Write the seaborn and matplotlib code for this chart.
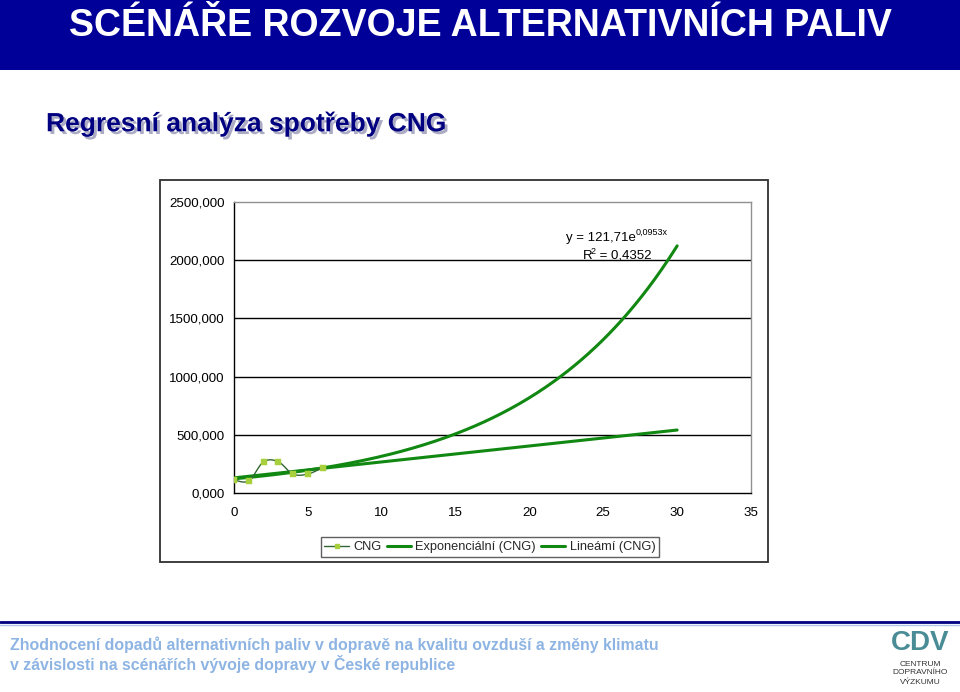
import numpy as np
import pandas as pd
import matplotlib
matplotlib.use("Agg")
import matplotlib.pyplot as plt
import matplotlib.patheffects as pe
from matplotlib.patches import Rectangle
from matplotlib.lines import Line2D
import seaborn as sns

# ---- data ----
cng_x = [0, 1, 2, 3, 4, 5, 6]
cng_y = [112, 104, 268, 268, 162, 163, 218]
exp_a, exp_b = 121.71, 0.0953          # y = a*e^(b x)
lin_intercept, lin_slope = 130.0, 13.7  # linear trend
trend_x_max = 30
y_ticks = [0, 500, 1000, 1500, 2000, 2500]
y_tick_labels = ["0,000", "500,000", "1000,000", "1500,000", "2000,000", "2500,000"]
x_ticks = [0, 5, 10, 15, 20, 25, 30, 35]
title = "SCÉNÁŘE ROZVOJE ALTERNATIVNÍCH PALIV"
subtitle = "Regresní analýza spotřeby CNG"
eq_main, eq_sup = "y = 121,71e", "0,0953x"
r2_text = "R", "2", " = 0,4352"
legend_labels = ["CNG", "Exponenciální (CNG)", "Lineámí (CNG)"]
footer1 = "Zhodnocení dopadů alternativních paliv v dopravě na kvalitu ovzduší a změny klimatu"
footer2 = "v závislosti na scénářích vývoje dopravy v České republice"

sns.set_style("white")
plt.rcParams['font.family'] = ['Liberation Sans', 'DejaVu Sans']

W, H = 960, 692
fig = plt.figure(figsize=(W / 100, H / 100), dpi=100)

def fx(px):
    return px / W

def fy(py):
    return 1 - py / H

# header banner
fig.patches.append(Rectangle((0, fy(70)), 1, 70 / H, transform=fig.transFigure,
                             facecolor="#000099", edgecolor="none", zorder=-5))
fig.text(0.5, fy(36), title, ha="center", va="baseline", color="white",
         fontsize=27, fontweight="bold")
fig.text(fx(46), fy(124), subtitle, ha="left", va="center", color="#000080",
         fontsize=19, fontweight="bold",
         path_effects=[pe.SimplePatchShadow(offset=(2, -2), shadow_rgbFace="#8888aa", alpha=0.7),
                       pe.Normal()])

# chart frame
fig.patches.append(Rectangle((fx(160), fy(562)), (768 - 160) / W, (562 - 180) / H,
                             transform=fig.transFigure, facecolor="white",
                             edgecolor="#303030", linewidth=1.3, zorder=-4))

# axes
ax = fig.add_axes([fx(234), fy(493), (751 - 234) / W, (493 - 202) / H], zorder=2)
ax.set_facecolor("white")

df_cng = pd.DataFrame({"x": cng_x, "y": cng_y})

# smooth curve through the CNG points (Catmull-Rom, like Excel smoothed line)
def catmull(xs, ys, n=20):
    pts = np.column_stack([xs, ys]).astype(float)
    p = np.vstack([pts[0], pts, pts[-1]])
    out = []
    for i in range(1, len(p) - 2):
        p0, p1, p2, p3 = p[i - 1], p[i], p[i + 1], p[i + 2]
        t = np.linspace(0, 1, n, endpoint=False)[:, None]
        seg = 0.5 * ((2 * p1) + (-p0 + p2) * t + (2 * p0 - 5 * p1 + 4 * p2 - p3) * t ** 2
                     + (-p0 + 3 * p1 - 3 * p2 + p3) * t ** 3)
        out.append(seg)
    out.append(pts[-1][None, :])
    return np.vstack(out)

sm = catmull(cng_x, cng_y)
df_sm = pd.DataFrame({"x": sm[:, 0], "y": sm[:, 1]})

tx = np.linspace(0, trend_x_max, 200)
df_exp = pd.DataFrame({"x": tx, "y": exp_a * np.exp(exp_b * tx)})
df_lin = pd.DataFrame({"x": tx, "y": lin_intercept + lin_slope * tx})

sns.lineplot(data=df_exp, x="x", y="y", ax=ax, color="#118811", linewidth=2.2, zorder=3)
sns.lineplot(data=df_lin, x="x", y="y", ax=ax, color="#118811", linewidth=2.2, zorder=3)
sns.lineplot(data=df_sm, x="x", y="y", ax=ax, color="#336633", linewidth=1.0, zorder=4)
sns.scatterplot(data=df_cng, x="x", y="y", ax=ax, color="#a8d03c", marker="s", s=16,
                edgecolor="#a8d03c", zorder=5)

ax.set_xlim(0, 35)
ax.set_ylim(0, 2500)
ax.set_xticks(x_ticks)
ax.set_xticklabels([str(v) for v in x_ticks])
ax.set_yticks(y_ticks)
ax.set_yticklabels(y_tick_labels)
ax.set_xlabel("")
ax.set_ylabel("")
for v in y_ticks[1:-1]:
    ax.axhline(v, color="black", linewidth=1.0, zorder=1)
ax.tick_params(axis="both", direction="out", length=3.8, width=1, colors="black",
               labelsize=9.6, pad=3)
ax.tick_params(axis="x", pad=6)
for s in ["left", "bottom"]:
    ax.spines[s].set_color("black")
    ax.spines[s].set_linewidth(1.0)
for s in ["top", "right"]:
    ax.spines[s].set_color("#909090")
    ax.spines[s].set_linewidth(1.0)

# equation annotations
fig.text(fx(566), fy(238), eq_main, ha="left", va="center", fontsize=9.5, color="black")
fig.text(fx(636), fy(232), eq_sup, ha="left", va="center", fontsize=6.5, color="black")
fig.text(fx(583), fy(256), r2_text[0], ha="left", va="center", fontsize=9.5, color="black")
fig.text(fx(591), fy(251), r2_text[1], ha="left", va="center", fontsize=6.5, color="black")
fig.text(fx(596), fy(256), r2_text[2], ha="left", va="center", fontsize=9.5, color="black")

# legend
handles = [
    Line2D([], [], color="#336633", linewidth=1.0, marker="s", markersize=3.5,
           markerfacecolor="#a8d03c", markeredgecolor="#a8d03c"),
    Line2D([], [], color="#118811", linewidth=2.2),
    Line2D([], [], color="#118811", linewidth=2.2),
]
leg = fig.legend(handles, legend_labels, loc="center", bbox_to_anchor=(fx(490), fy(547)),
                 ncol=3, frameon=True, fancybox=False, fontsize=9.2, handlelength=1.9,
                 handletextpad=0.35, columnspacing=0.4, borderpad=0.3, borderaxespad=0,
                 edgecolor="#606060", framealpha=1)
leg.get_frame().set_linewidth(1.0)

# footer
fig.add_artist(Line2D([0, 1], [fy(622), fy(622)], transform=fig.transFigure,
                      color="#000080", linewidth=2))
fig.add_artist(Line2D([0, 1], [fy(625), fy(625)], transform=fig.transFigure,
                      color="#b0c4e8", linewidth=1))
fig.text(fx(10), fy(645), footer1, ha="left", va="center", fontsize=11.4,
         fontweight="bold", color="#8db4e2")
fig.text(fx(10), fy(664), footer2, ha="left", va="center", fontsize=11.4,
         fontweight="bold", color="#8db4e2")

# logo approximation
fig.text(fx(920), fy(643), "CDV", ha="center", va="center", fontsize=20,
         fontweight="bold", color="#4a8c96")
for i, t in enumerate(["CENTRUM", "DOPRAVNÍHO", "VÝZKUMU"]):
    fig.text(fx(920), fy(664 + i * 9), t, ha="center", va="center", fontsize=6, color="#333333")

fig.savefig("out.png", dpi=100)
